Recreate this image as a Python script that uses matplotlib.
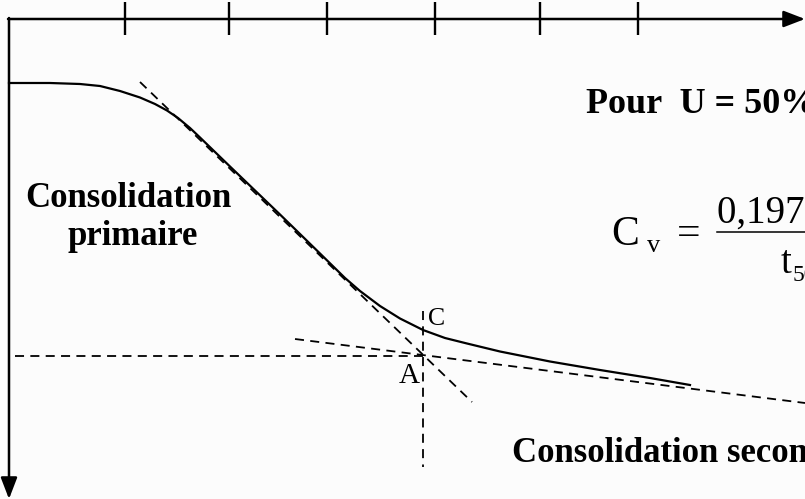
import numpy as np
import matplotlib
matplotlib.use('Agg')
import matplotlib.pyplot as plt

# consolidation curve (pixel-like units, y grows downwards)
curve_x = [9, 50, 80, 100, 120, 140, 155, 167, 178, 190, 200, 215, 230, 255, 280, 300,
           320, 345, 360, 380, 400, 423, 445, 467, 500, 530, 550, 600, 650, 690]
curve_y = [83, 83, 84, 86, 91, 97.5, 104, 110.5, 118, 128, 137.5, 152, 166.5, 190.5, 214.5, 234,
           253.5, 278, 291, 306, 318.5, 330, 338, 343.5, 351.5, 357.5, 361.5, 370, 378, 385]

# top axis ticks
tick_x = [125, 229, 327, 435, 540, 638]

# construction lines
tangent1_x = [140, 472]
tangent1_y = [82, 402]
tangent2_x = [295, 805]
tangent2_y = [339, 403]
horiz_x = [15, 423]
horiz_y = [356, 356]
vert_x = [423, 423]
vert_y = [311, 467]

serif = ['Liberation Serif', 'DejaVu Serif']

fig = plt.figure(figsize=(8.05, 4.99), dpi=100)
fig.patch.set_facecolor('#fcfcfc')
ax = fig.add_axes([0, 0, 1, 1])
ax.set_xlim(0, 805)
ax.set_ylim(499, 0)
ax.axis('off')

# axes with arrows
arr = dict(arrowstyle='-|>,head_length=0.65,head_width=0.25', color='black',
           lw=1.8, mutation_scale=20, shrinkA=0, shrinkB=0)
ax.annotate('', xy=(805, 19), xytext=(8, 19), arrowprops=arr, annotation_clip=False)
ax.annotate('', xy=(9, 499), xytext=(9, 18), arrowprops=arr, annotation_clip=False)
for tx in tick_x:
    ax.plot([tx, tx], [2, 35], color='black', lw=1.7, solid_capstyle='butt')

# dashed construction lines
dash = dict(color='black', lw=1.3, linestyle=(0, (5, 3.5)))
ax.plot(tangent1_x, tangent1_y, **dash)
ax.plot(tangent2_x, tangent2_y, **dash)
ax.plot(horiz_x, horiz_y, **dash)
ax.plot(vert_x, vert_y, **dash)

# curve
ax.plot(curve_x, curve_y, color='black', lw=1.6)

# labels
ax.text(128, 207, 'Consolidation', family=serif, weight='bold', fontsize=25,
        ha='center', va='baseline')
ax.text(133, 245, 'primaire', family=serif, weight='bold', fontsize=25,
        ha='center', va='baseline')
ax.text(512, 462, 'Consolidation secondaire', family=serif, weight='bold', fontsize=25,
        ha='left', va='baseline')
ax.text(586, 113, 'Pour  U = 50%', family=serif, weight='bold', fontsize=26,
        ha='left', va='baseline')
ax.text(428, 325, 'C', family=serif, fontsize=18.5, ha='left', va='baseline')
ax.text(399, 383, 'A', family=serif, fontsize=21, ha='left', va='baseline')

# formula
ax.text(611, 245, 'C', family=serif, fontsize=30, ha='left', va='baseline')
ax.text(647, 252, 'v', family=serif, fontsize=19, ha='left', va='baseline')
ax.text(677, 245, '=', family=serif, fontsize=30, ha='left', va='baseline')
ax.plot([717, 810], [232, 232], color='black', lw=1.1)
ax.text(717, 223, '0,197 H²', family=serif, fontsize=28, ha='left', va='baseline')
ax.text(781, 273, 't', family=serif, fontsize=28, ha='left', va='baseline')
ax.text(793, 281, '50', family=serif, fontsize=17, ha='left', va='baseline')

fig.savefig('out.png', dpi=100, facecolor=fig.get_facecolor())
